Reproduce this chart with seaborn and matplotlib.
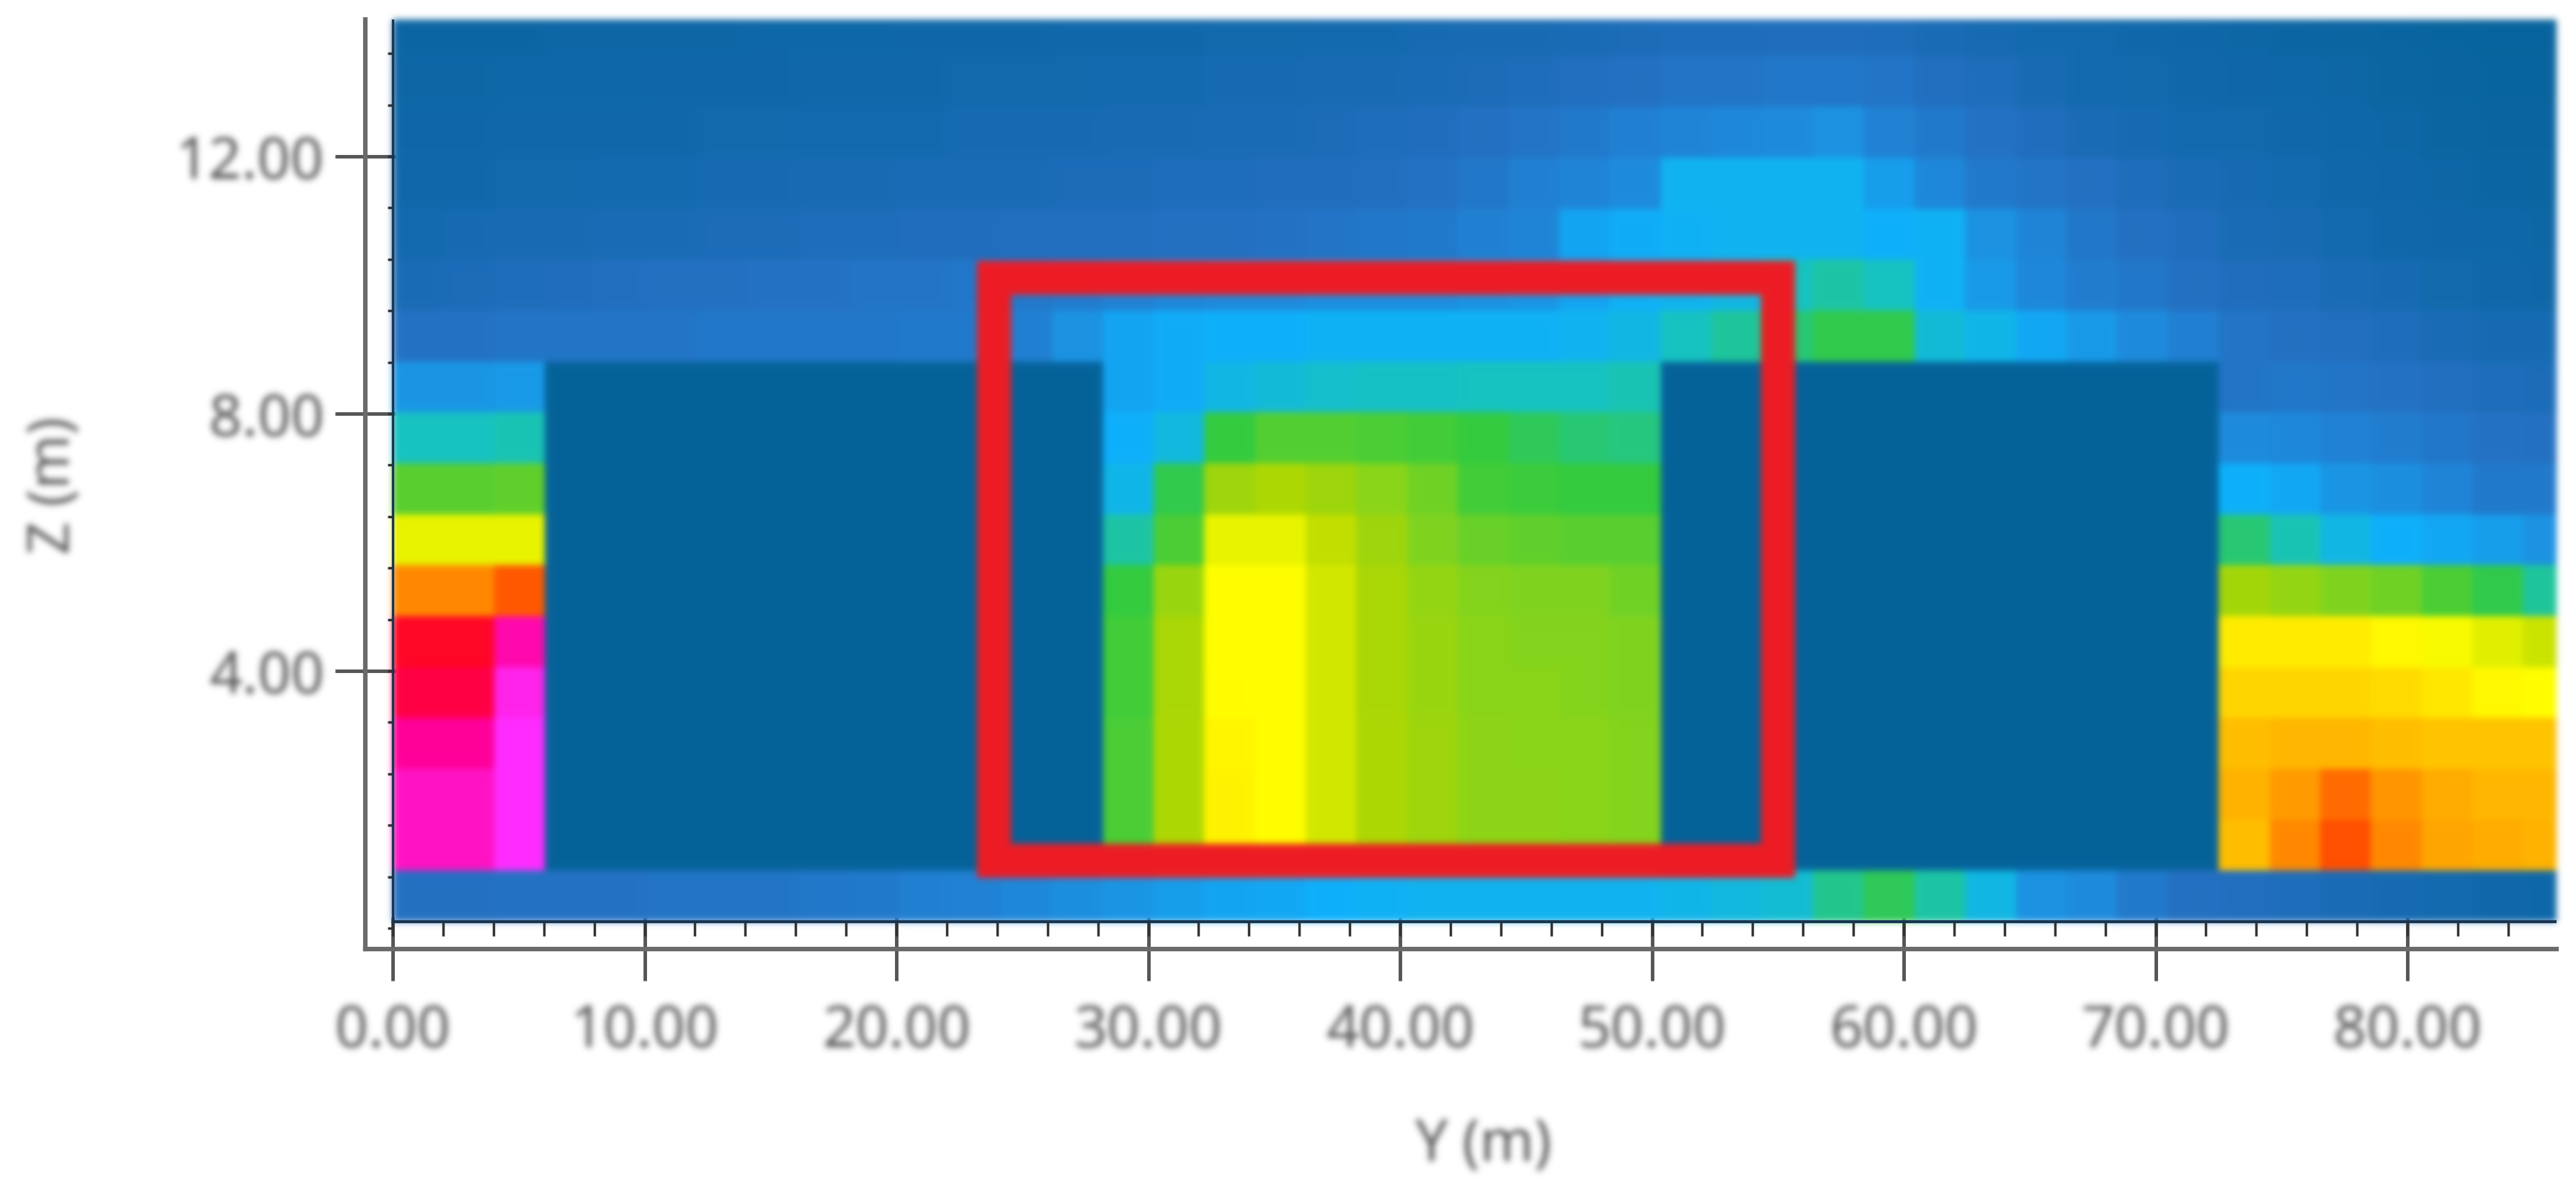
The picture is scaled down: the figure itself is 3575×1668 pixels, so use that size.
import numpy as np
import seaborn as sns
import matplotlib.pyplot as plt
from matplotlib.colors import LinearSegmentedColormap
from matplotlib.patches import Rectangle

# cell size of the model grid (metres)
cell_y = 2.014
cell_z = 0.792
base_z = 0.10

building = [0] * 11

# one list per grid row, top of the picture first, 43 columns each
row17 = [0.6, 0.6, 0.6, 0.7, 0.7, 0.7, 0.7, 0.8, 0.8, 0.8, 0.9, 0.9, 0.9, 1, 1, 1, 1.1, 1.1, 1.2, 1.2, 1.3, 1.4, 1.4, 1.5, 1.6, 1.7, 1.7, 1.8, 1.8, 1.7, 1.5, 1.3, 1.2, 1.1, 1, .9, .7, .6, .5, .4, .3, .2, .2]
row16 = [0.7, 0.7, 0.8, 0.8, 0.8, 0.9, 0.9, 0.9, 1, 1, 1, 1.1, 1.1, 1.1, 1.2, 1.2, 1.3, 1.3, 1.4, 1.4, 1.5, 1.6, 1.7, 1.9, 2, 2.2, 2.2, 2.3, 2.3, 2.2, 1.9, 1.7, 1.4, 1.2, 1.1, 1, .9, .8, .7, .5, .4, .3, .3]
row15 = [0.9, 0.9, 1, 1, 1, 1, 1.1, 1.1, 1.2, 1.2, 1.2, 1.3, 1.3, 1.3, 1.4, 1.4, 1.5, 1.5, 1.6, 1.7, 1.8, 2, 2.2, 2.4, 2.6, 2.8, 2.9, 3, 3.2, 2.7, 2.4, 2.1, 1.8, 1.5, 1.3, 1.2, 1.1, 1, .8, .7, .5, .4, .4]
row14 = [1, 1, 1.1, 1.1, 1.2, 1.2, 1.3, 1.3, 1.4, 1.4, 1.5, 1.5, 1.5, 1.6, 1.6, 1.7, 1.7, 1.8, 1.8, 1.9, 2.1, 2.3, 2.6, 2.8, 3, 4.2, 4.2, 4.2, 4.2, 3.5, 2.9, 2.4, 2.2, 2, 1.7, 1.5, 1.3, 1.2, 1, .9, .7, .6, .5]
row13 = [1.2, 1.3, 1.4, 1.4, 1.5, 1.5, 1.6, 1.6, 1.7, 1.7, 1.8, 1.8, 1.9, 1.9, 1.9, 2, 2, 2.1, 2.2, 2.3, 2.4, 2.6, 2.8, 3.7, 3.9, 4.1, 4.2, 4.2, 4.2, 4, 4.1, 3.2, 2.8, 2.3, 2, 1.8, 1.5, 1.4, 1.2, 1, .9, .8, .7]
row12 = [1.5, 1.6, 1.7, 1.8, 1.9, 2, 2, 2.1, 2.1, 2.2, 2.2, 2.3, 2.4, 2.5, 2.7, 2.9, 3, 3, 3.1, 3.1, 3.1, 3.2, 3.3, 3.7, 4.1, 4.2, 4.4, 5, 5.2, 5, 4.1, 3.4, 2.9, 2.5, 2.3, 2, 1.8, 1.7, 1.5, 1.3, 1.1, 1, .9]
row11 = [2.1, 2.1, 2.2, 2.2, 2.2, 2.2, 2.3, 2.3, 2.3, 2.3, 2.4, 2.4, 2.6, 3.2, 3.7, 3.9, 4, 4, 4.1, 4.1, 4.1, 4.1, 4.1, 4.2, 4.4, 5, 5.3, 5.6, 5.9, 5.9, 4.6, 4.3, 3.8, 3.4, 3, 2.6, 2.2, 2, 1.9, 1.7, 1.5, 1.3, 1.3]
row10 = [3.3, 3.3, 3.4] + building + [3.7, 3.9, 4.4, 4.6, 4.8, 4.9, 4.9, 5, 5, 5, 5.1] + building + [2.2, 2.3, 2.2, 2.1, 1.9, 1.7, 1.6]
row9 = [5, 5, 5.1] + building + [4, 4.5, 6, 6.4, 6.4, 6.3, 6.2, 6, 5.8, 5.6, 5.5] + building + [3, 2.9, 2.7, 2.5, 2.3, 2.1, 2]
row8 = [6.5, 6.5, 6.6] + building + [4.3, 5.9, 7.6, 7.9, 7.6, 7.2, 6.8, 6.2, 6.1, 6, 6] + building + [4, 3.8, 3.3, 3.1, 2.8, 2.4, 2.4]
row7 = [8.7, 8.7, 8.7] + building + [5.2, 6.3, 8.7, 8.7, 8.2, 7.6, 7, 6.7, 6.6, 6.5, 6.5] + building + [5.6, 5.1, 4.4, 4, 3.8, 3.5, 3.2]
row6 = [11, 11, 11.5] + building + [6, 7.5, 9, 9, 8.4, 7.8, 7.4, 7.1, 7, 7, 6.8] + building + [7.7, 7.4, 7, 6.8, 6.3, 5.9, 5.3]
row5 = [12.4, 12.4, 13.2] + building + [6.2, 7.8, 9, 9, 8.4, 7.8, 7.5, 7.2, 7.1, 7.1, 7] + building + [9.3, 9.3, 9.3, 9.1, 8.9, 8.6, 8.3]
row4 = [12.6, 12.6, 13.8] + building + [6.2, 7.8, 9.05, 9, 8.4, 7.8, 7.5, 7.2, 7.2, 7.1, 7] + building + [9.7, 9.7, 9.7, 9.6, 9.4, 9.1, 9]
row3 = [13, 13, 14] + building + [6.3, 7.9, 9.15, 9, 8.4, 7.9, 7.6, 7.3, 7.2, 7.2, 7.1] + building + [10.1, 10.2, 10.2, 10.1, 10, 10, 10]
row2 = [13.4, 13.4, 14] + building + [6.3, 7.9, 9.2, 9, 8.4, 7.9, 7.6, 7.3, 7.3, 7.2, 7.1] + building + [10.3, 10.7, 11.3, 10.8, 10.4, 10.2, 10.2]
row1 = [13.4, 13.4, 14] + building + [6.3, 7.9, 9.2, 9, 8.4, 7.9, 7.6, 7.3, 7.3, 7.2, 7.1] + building + [10.1, 11, 11.6, 11, 10.5, 10.4, 10.3]
row0 = [2, 2, 2.1, 2.1, 2.1, 2.2, 2.2, 2.2, 2.3, 2.4, 2.6, 2.7, 2.9, 3.1, 3.3, 3.5, 3.7, 3.8, 4, 4.1, 4.2, 4.2, 4.2, 4.2, 4.2, 4.3, 4.5, 4.7, 5.4, 5.8, 5.2, 4.4, 3.2, 3, 2.4, 2, 1.9, 1.7, 1.5, 1.3, 1.2, 1, .8]

y_ticks_m = [0, 10, 20, 30, 40, 50, 60, 70, 80]
y_tick_labels = ['0.00', '10.00', '20.00', '30.00', '40.00', '50.00', '60.00', '70.00', '80.00']
z_ticks_m = [4, 8, 12]
z_tick_labels = ['4.00', '8.00', '12.00']

scale_stops = [0, 1, 2, 3, 4, 5, 6, 7, 8, 9, 10, 11, 12, 12.5, 13, 14]
scale_colors = ['#06639a', '#1169ab', '#2470c2', '#1f8bdc', '#0fb0fb', '#17c3c0', '#34cb3f', '#7fd420',
                '#b4d800', '#ffff00', '#ffc400', '#ff8a00', '#ff2a00', '#ff0030', '#ff0099', '#ff2cff']


def to_col(y):
    return np.asarray(y, dtype=float) / cell_y


def to_row(z):
    return 18 - (np.asarray(z, dtype=float) - base_z) / cell_z


# the source is an upscaled screenshot, so everything is a bit soft
def soften(img, dpi):
    pad = 14
    x = np.arange(-pad, pad + 1)
    kernel = np.exp(-x ** 2 / (2 * 4.5 ** 2))
    kernel = kernel / kernel.sum()
    out = np.pad(img, ((pad, pad), (pad, pad), (0, 0)))
    alpha = out[:, :, 3].copy()
    out[:, :, :3] = out[:, :, :3] * alpha[:, :, None]
    for axis in (0, 1):
        out = np.apply_along_axis(lambda v: np.convolve(v, kernel, mode='same'), axis, out)
    a = np.clip(out[:, :, 3:4], 1e-4, None)
    out[:, :, :3] = np.clip(out[:, :, :3] / a, 0, 1)
    return out, -pad, -pad


sns.set_style('ticks')
plt.rcParams['font.family'] = ['Noto Sans', 'DejaVu Sans']

field = np.array([row17, row16, row15, row14, row13, row12, row11, row10, row9,
                  row8, row7, row6, row5, row4, row3, row2, row1, row0])
cmap = LinearSegmentedColormap.from_list('airflow', [(s / 14, c) for s, c in zip(scale_stops, scale_colors)], N=512)

fig = plt.figure(figsize=(35.75, 16.68), dpi=100)
ax = fig.add_axes([507 / 3575, 351 / 1668, 3041 / 3575, 1290 / 1668])

sns.heatmap(field, vmin=0, vmax=14, cmap=cmap, cbar=False, xticklabels=False, yticklabels=False, ax=ax)
ax.collections[0].set_agg_filter(soften)

ax.set_xlim(to_col(-1.09), to_col(85.92))
ax.set_ylim(to_row(-0.325), to_row(14.13))

sns.despine(ax=ax)
for side in ['left', 'bottom']:
    ax.spines[side].set_visible(True)
    ax.spines[side].set_linewidth(4.5)
    ax.spines[side].set_color('#6a6a6a')

ax.set_xticks(to_col(y_ticks_m))
ax.set_xticklabels(y_tick_labels)
ax.set_yticks(to_row(z_ticks_m))
ax.set_yticklabels(z_tick_labels)
ax.tick_params(axis='x', direction='inout', length=64, width=3.5, color='#555555', labelcolor='#555555', labelsize=58, pad=22)
ax.tick_params(axis='y', direction='inout', length=60, width=3.5, color='#555555', labelcolor='#555555', labelsize=58, pad=11)

# small ticks sit on the edge of the field, not on the outer axis lines
ax.vlines(to_col(np.arange(0, 86, 2)), to_row(0.1), to_row(-0.12), color='#333333', lw=2.5)
ax.hlines(to_row(np.arange(0, 14.1, 0.8)), to_col(-0.2), to_col(0), color='#333333', lw=2.5)
ax.plot(to_col([0, 0]), to_row([0.1, 14.13]), color='#1a3550', lw=2.5)
ax.plot(to_col([0, 85.92]), to_row([0.1, 0.1]), color='#1a3550', lw=3)

# highlighted canyon
box = Rectangle((to_col(23.86), to_row(10.12)), to_col(55.0) - to_col(23.86), to_row(1.05) - to_row(10.12),
                fill=False, edgecolor='#ee1c25', lw=34, joinstyle='miter')
ax.add_patch(box)
box.set_agg_filter(soften)

ax.set_xlabel('Y (m)', fontsize=58, color='#555555', va='center')
ax.set_ylabel('Z (m)', fontsize=58, color='#555555', va='center', rotation=90)
ax.xaxis.set_label_coords(0.51, -0.212)
ax.yaxis.set_label_coords(-0.142, 0.499)

for t in ax.get_xticklabels() + ax.get_yticklabels() + [ax.xaxis.label, ax.yaxis.label]:
    t.set_agg_filter(soften)

fig.savefig('out.png', dpi=100)
